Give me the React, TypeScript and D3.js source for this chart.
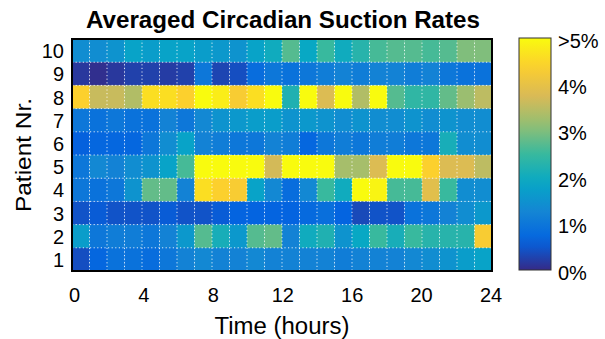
import React from "react";
import * as d3 from "d3";

// Hourly suction rate (%) per patient, hours 0..23
const hours = d3.range(24);
const patients = [10, 9, 8, 7, 6, 5, 4, 3, 2, 1];
const rates: Record<number, number[]> = {
  10: [1.4, 1.4, 1.5, 1.8, 1.7, 1.8, 1.8, 1.7, 1.6, 1.5, 1.8, 2.0, 2.7, 1.9, 2.5, 2.0, 2.3, 2.6, 2.7, 2.7, 2.6, 2.7, 3.0, 3.0],
  9: [0.15, 0.05, 0.15, 0.25, 0.25, 0.2, 0.25, 1.0, 0.3, 0.4, 0.8, 1.0, 0.9, 1.0, 1.1, 1.2, 1.1, 1.2, 1.2, 1.1, 1.2, 1.0, 0.9, 0.9],
  8: [4.4, 3.6, 3.6, 3.4, 4.6, 4.6, 4.4, 5.0, 4.8, 4.3, 4.6, 5.0, 2.2, 5.0, 3.8, 5.0, 3.4, 5.0, 2.7, 2.4, 2.4, 2.8, 3.2, 3.5],
  7: [1.0, 0.9, 1.0, 0.9, 0.9, 1.2, 1.0, 1.3, 1.5, 1.6, 1.7, 1.7, 1.5, 1.6, 1.5, 1.4, 1.5, 1.4, 1.4, 1.5, 1.4, 1.5, 1.4, 1.4],
  6: [0.6, 0.7, 0.7, 0.7, 1.0, 1.4, 1.8, 1.2, 1.1, 1.0, 1.0, 1.2, 1.1, 0.7, 1.0, 1.1, 1.0, 1.1, 1.1, 1.0, 1.0, 2.1, 1.4, 1.4],
  5: [1.0, 1.3, 1.2, 1.4, 1.5, 1.8, 2.6, 5.0, 5.0, 5.0, 5.0, 3.7, 5.0, 5.0, 5.0, 3.3, 3.3, 3.8, 5.0, 5.0, 4.4, 3.8, 3.8, 3.5],
  4: [1.0, 0.9, 1.0, 1.5, 2.8, 2.8, 1.2, 4.6, 4.4, 4.3, 1.8, 1.3, 0.8, 1.3, 2.5, 2.0, 5.0, 4.9, 2.6, 2.6, 3.9, 2.5, 1.4, 1.4],
  3: [0.45, 0.55, 0.45, 0.45, 0.45, 0.55, 0.45, 0.45, 0.55, 0.65, 0.65, 0.65, 0.65, 0.75, 0.85, 0.65, 0.35, 0.45, 0.45, 0.9, 1.0, 1.2, 1.4, 1.6],
  2: [1.7, 1.0, 1.1, 1.1, 1.0, 1.2, 1.6, 2.7, 2.1, 1.6, 2.7, 2.8, 1.2, 2.0, 2.2, 1.5, 1.9, 2.5, 2.1, 2.5, 2.3, 2.3, 2.3, 4.3],
  1: [0.4, 0.7, 0.9, 0.9, 0.8, 1.0, 1.2, 1.3, 1.2, 1.2, 1.3, 1.2, 1.2, 1.2, 1.2, 1.1, 1.2, 1.2, 1.2, 1.3, 1.4, 1.5, 1.7, 1.8],
};
const xTicks = [0, 4, 8, 12, 16, 20, 24];
const cbTicks = [0, 1, 2, 3, 4, 5];
const cbLabels = ["0%", "1%", "2%", "3%", "4%", ">5%"];

// Parula colormap stops
const parulaStops = ["#352a87", "#0363e1", "#1485d4", "#06a7c6", "#38b99e", "#92bf73", "#d9ba56", "#fcce2e", "#f9fb0e"];
const parula = d3.scaleLinear<string>()
  .domain(parulaStops.map((_, i) => i / (parulaStops.length - 1)))
  .range(parulaStops)
  .interpolate(d3.interpolateRgb)
  .clamp(true);

const W = 605, H = 339;
const plot = { x0: 72, x1: 492, y0: 39, y1: 271 };
const cb = { x0: 519, x1: 551, y0: 38, y1: 270 };
const font = "'Liberation Sans', Arial, sans-serif";

export default function App() {
  const xCell = d3.scaleBand<number>().domain(hours).range([plot.x0, plot.x1]);
  const xTick = d3.scaleLinear().domain([0, 24]).range([74.5, 491]);
  const y = d3.scaleBand<number>().domain(patients).range([plot.y0, plot.y1]);
  const c = d3.scaleLinear().domain([0, 5]).range([0, 1]).clamp(true);
  const cy = d3.scaleLinear().domain([0, 5]).range([cb.y1, cb.y0]);
  const gradStops = d3.range(0, 1.0001, 0.05);

  return (
    <svg width={W} height={H} style={{ position: "absolute", left: 0, top: 0, background: "#fff" }} fontFamily={font}>
      <defs>
        <linearGradient id="cbGrad" x1="0" y1="1" x2="0" y2="0">
          {gradStops.map((t) => (
            <stop key={t} offset={t} stopColor={parula(t)} />
          ))}
        </linearGradient>
      </defs>

      <text x={283} y={28} textAnchor="middle" fontSize={23} fontWeight="bold" textLength={394} lengthAdjust="spacingAndGlyphs">
        Averaged Circadian Suction Rates
      </text>

      {/* heatmap cells */}
      {patients.map((p) =>
        hours.map((h) => (
          <rect
            key={`${p}-${h}`}
            x={xCell(h)!}
            y={y(p)!}
            width={xCell.bandwidth() + 0.3}
            height={y.bandwidth() + 0.3}
            fill={parula(c(rates[p][h]))}
          />
        ))
      )}

      {/* dotted cell grid */}
      {hours.slice(1).map((h) => (
        <line key={`v${h}`} x1={xCell(h)!} x2={xCell(h)!} y1={plot.y0} y2={plot.y1} stroke="#fff" strokeOpacity={0.85} strokeWidth={1} strokeDasharray="1.2 2.4" />
      ))}
      {patients.slice(1).map((p) => (
        <line key={`h${p}`} x1={plot.x0} x2={plot.x1} y1={y(p)!} y2={y(p)!} stroke="#fff" strokeOpacity={0.85} strokeWidth={1} strokeDasharray="1.2 2.4" />
      ))}

      <rect x={plot.x0} y={plot.y0} width={plot.x1 - plot.x0} height={plot.y1 - plot.y0} fill="none" stroke="#000" strokeWidth={2} />

      {/* y axis labels */}
      {patients.map((p) => (
        <text key={`yl${p}`} x={64} y={y(p)! + y.bandwidth() / 2 + 7.5} textAnchor="end" fontSize={20}>
          {p}
        </text>
      ))}
      <text transform={`translate(31,${(plot.y0 + plot.y1) / 2}) rotate(-90)`} textAnchor="middle" fontSize={22} textLength={114} lengthAdjust="spacingAndGlyphs">
        Patient Nr.
      </text>

      {/* x axis labels */}
      {xTicks.map((t) => (
        <text key={`xl${t}`} x={xTick(t)} y={302} textAnchor="middle" fontSize={20}>
          {t}
        </text>
      ))}
      <text x={(plot.x0 + plot.x1) / 2} y={334} textAnchor="middle" fontSize={23} textLength={135} lengthAdjust="spacingAndGlyphs">
        Time (hours)
      </text>

      {/* colorbar */}
      <rect x={cb.x0} y={cb.y0} width={cb.x1 - cb.x0} height={cb.y1 - cb.y0} fill="url(#cbGrad)" stroke="#333" strokeWidth={1} />
      {cbTicks.map((t, i) => (
        <text key={`cb${t}`} x={558} y={cy(t) + 9.5} fontSize={20}>
          {cbLabels[i]}
        </text>
      ))}
    </svg>
  );
}
